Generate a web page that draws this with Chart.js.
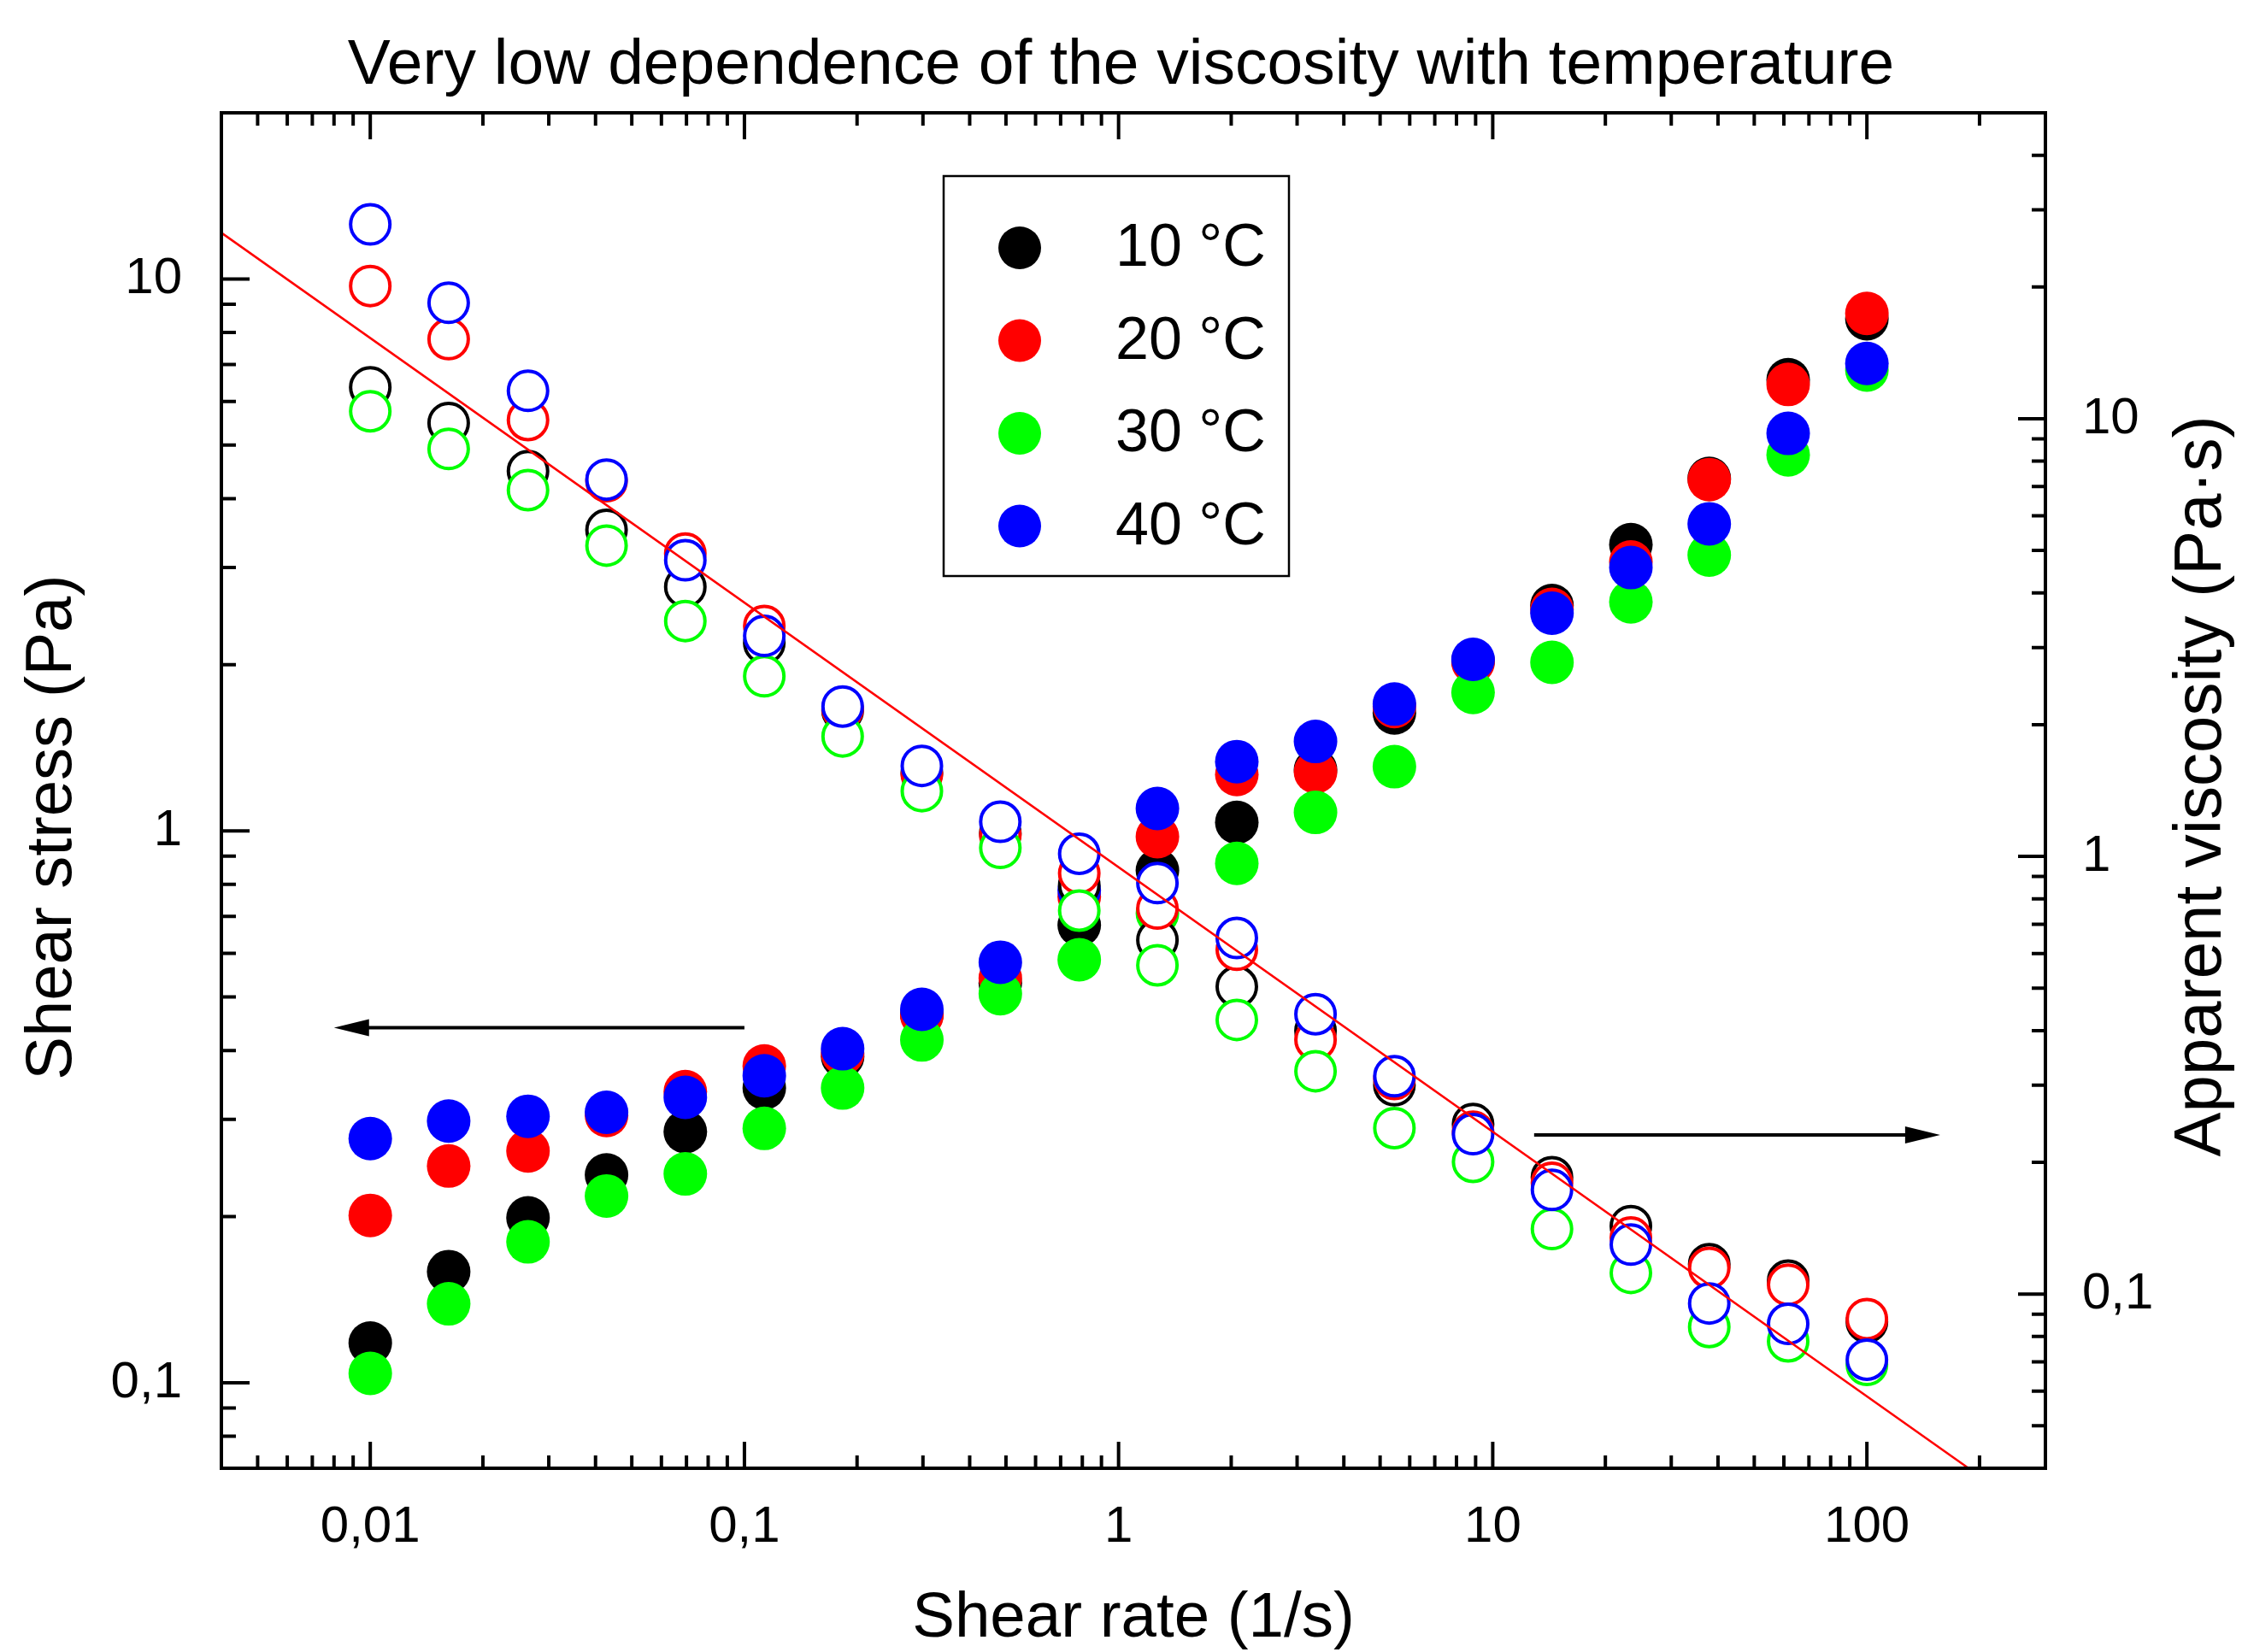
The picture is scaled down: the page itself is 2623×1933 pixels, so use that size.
<!DOCTYPE html>
<html>
<head>
<meta charset="utf-8">
<title>Very low dependence of the viscosity with temperature</title>
<script src="https://cdn.jsdelivr.net/npm/chart.js@4.4.1/dist/chart.umd.min.js"></script>
<style>
  html, body { margin: 0; padding: 0; background: #fff; }
  #wrap { width: 2623px; height: 1933px; }
</style>
</head>
<body>
<div id="wrap"><canvas id="chart" width="2623" height="1933"></canvas></div>
<script>
// shear rate (1/s), same for every series
var shearRate = [0.01, 0.0162, 0.0264, 0.0428, 0.0695, 0.113, 0.183, 0.298, 0.483, 0.785,
                 1.27, 2.07, 3.36, 5.46, 8.86, 14.4, 23.4, 37.9, 61.6, 100];

// shear stress (Pa) -> left axis, filled symbols
var stress10 = [0.118, 0.159, 0.199, 0.238, 0.285, 0.342, 0.390, 0.465, 0.530, 0.675,
                0.848, 1.036, 1.29, 1.636, 2.03, 2.56, 3.30, 4.35, 6.57, 8.47];
var stress20 = [0.201, 0.247, 0.263, 0.305, 0.337, 0.375, 0.395, 0.463, 0.541, 0.76,
                0.976, 1.265, 1.279, 1.68, 2.02, 2.52, 3.07, 4.33, 6.44, 8.66];
var stress30 = [0.104, 0.139, 0.180, 0.218, 0.239, 0.289, 0.342, 0.418, 0.507, 0.584,
                0.709, 0.873, 1.08, 1.307, 1.781, 2.02, 2.60, 3.16, 4.80, 6.84];
var stress40 = [0.277, 0.298, 0.304, 0.309, 0.329, 0.360, 0.403, 0.475, 0.578, 0.78,
                1.098, 1.335, 1.452, 1.697, 2.045, 2.48, 3.00, 3.60, 5.25, 7.03];

// apparent viscosity (Pa·s) -> right axis, open symbols
var visc10 = [11.8, 9.78, 7.59, 5.57, 4.13, 3.07, 2.15, 1.55, 1.13, 0.86,
              0.644, 0.504, 0.40, 0.30, 0.2445, 0.185, 0.143, 0.117, 0.1073, 0.0864];
var visc20 = [20.1, 15.2, 9.93, 7.2, 4.92, 3.36, 2.17, 1.54, 1.12, 0.915,
              0.76, 0.612, 0.381, 0.31, 0.235, 0.1796, 0.1346, 0.1148, 0.105, 0.0877];
var visc30 = [10.4, 8.53, 6.87, 5.13, 3.45, 2.58, 1.88, 1.41, 1.046, 0.752,
              0.564, 0.423, 0.323, 0.2395, 0.2005, 0.1408, 0.1118, 0.0841, 0.078, 0.0689];
var visc40 = [27.8, 18.4, 11.58, 7.26, 4.75, 3.19, 2.20, 1.61, 1.20, 1.014,
              0.869, 0.651, 0.436, 0.3146, 0.232, 0.173, 0.1297, 0.0952, 0.0855, 0.0708];

var temps = ['10 °C', '20 °C', '30 °C', '40 °C'];
var colors = ['#000000', '#ff0000', '#00ff00', '#0000ff'];

// red guide line (viscosity axis), its two ends
var fitRate = [0.004, 187];
var fitVisc = [26.6, 0.04];

// arrows: which family goes with which axis
var arrowStressX = [0.1, 0.008];   var arrowStressY = 0.44;   // left axis
var arrowViscX = [12.9, 157];      var arrowViscY = 0.231;    // right axis

// tick labels (decimal comma)
var xTickVals = [0.01, 0.1, 1, 10, 100];
var xTickText = ['0,01', '0,1', '1', '10', '100'];
var yTickVals = [0.1, 1, 10];
var yTickText = ['0,1', '1', '10'];

var leftTitle = 'Shear stress (Pa)';
var rightTitle = 'Apparent viscosity (Pa·s)';

var FONT = "'Liberation Sans', Arial, sans-serif";
Chart.defaults.font.family = FONT;
Chart.defaults.color = '#000';

var stressSeries = [stress10, stress20, stress30, stress40];
var viscSeries = [visc10, visc20, visc30, visc40];

function pairs(xs, ys) {
    return xs.map(function (x, i) { return {x: x, y: ys[i]}; });
}

function pickLabel(vals, texts, v) {
    for (var i = 0; i < vals.length; i++) {
        if (Math.abs(Math.log10(v / vals[i])) < 0.01) return texts[i];
    }
    return '';
}

// 1..9 x 10^n ticks, majors at the decades
function logTicks(scale) {
    var out = [];
    var lo = Math.floor(Math.log10(scale.min)), hi = Math.ceil(Math.log10(scale.max));
    for (var e = lo; e <= hi; e++) {
        for (var m = 1; m <= 9; m++) {
            var v = parseFloat((m * Math.pow(10, e)).toPrecision(6));
            if (v >= scale.min * 0.999 && v <= scale.max * 1.001) out.push({value: v, major: m === 1});
        }
    }
    scale.ticks = out;
}

var datasets = [];
datasets.push({
    label: 'fit',
    data: pairs(fitRate, fitVisc),
    showLine: true,
    pointRadius: 0,
    borderColor: '#ff0000',
    borderWidth: 2.5,
    yAxisID: 'yR',
    order: 0
});
for (var i = 0; i < 4; i++) {
    datasets.push({
        label: temps[i] + ' viscosity',
        data: pairs(shearRate, viscSeries[i]),
        pointRadius: 23,
        pointBackgroundColor: '#ffffff',
        pointBorderColor: colors[i],
        pointBorderWidth: 4,
        yAxisID: 'yR',
        order: 4 - i
    });
    datasets.push({
        label: temps[i],
        data: pairs(shearRate, stressSeries[i]),
        pointRadius: 25.5,
        pointBackgroundColor: colors[i],
        pointBorderColor: colors[i],
        pointBorderWidth: 0,
        yAxisID: 'yL',
        order: 8 - i
    });
}

// frame, inward ticks, arrows, y titles and the boxed legend
var decorPlugin = {
    id: 'decor',
    afterDraw: function (chart) {
        var ctx = chart.ctx, a = chart.chartArea;
        var sx = chart.scales.x, yl = chart.scales.yL, yr = chart.scales.yR;
        ctx.save();
        ctx.strokeStyle = '#000';
        ctx.fillStyle = '#000';
        ctx.lineCap = 'butt';

        // ticks
        ctx.lineWidth = 4;
        ctx.beginPath();
        sx.ticks.forEach(function (t) {
            var p = sx.getPixelForValue(t.value);
            if (p < a.left + 3 || p > a.right - 3) return;
            var len = t.major ? 31 : 15;
            ctx.moveTo(p, a.bottom); ctx.lineTo(p, a.bottom - len);
            ctx.moveTo(p, a.top); ctx.lineTo(p, a.top + len);
        });
        yl.ticks.forEach(function (t) {
            var p = yl.getPixelForValue(t.value);
            if (p < a.top + 3 || p > a.bottom - 3) return;
            var len = t.major ? 33 : 17;
            ctx.moveTo(a.left, p); ctx.lineTo(a.left + len, p);
        });
        yr.ticks.forEach(function (t) {
            var p = yr.getPixelForValue(t.value);
            if (p < a.top + 3 || p > a.bottom - 3) return;
            var len = t.major ? 32 : 16;
            ctx.moveTo(a.right, p); ctx.lineTo(a.right - len, p);
        });
        ctx.stroke();

        // frame
        ctx.lineWidth = 4;
        ctx.strokeRect(a.left, a.top, a.right - a.left, a.bottom - a.top);

        // arrows
        function arrow(x1, y1, x2, y2) {
            var dir = x2 > x1 ? 1 : -1;
            ctx.lineWidth = 4;
            ctx.beginPath();
            ctx.moveTo(x1, y1);
            ctx.lineTo(x2 - dir * 38, y2);
            ctx.stroke();
            ctx.beginPath();
            ctx.moveTo(x2, y2);
            ctx.lineTo(x2 - dir * 41, y2 - 10);
            ctx.lineTo(x2 - dir * 41, y2 + 10);
            ctx.closePath();
            ctx.fill();
        }
        var ys = yl.getPixelForValue(arrowStressY);
        arrow(sx.getPixelForValue(arrowStressX[0]), ys, sx.getPixelForValue(arrowStressX[1]), ys);
        var yv = yr.getPixelForValue(arrowViscY);
        arrow(sx.getPixelForValue(arrowViscX[0]), yv, sx.getPixelForValue(arrowViscX[1]), yv);

        // y axis titles, both read bottom to top
        function vtitle(text, size, x, y) {
            ctx.save();
            ctx.translate(x, y);
            ctx.rotate(-Math.PI / 2);
            ctx.font = size + 'px ' + FONT;
            ctx.textAlign = 'center';
            ctx.textBaseline = 'middle';
            ctx.fillStyle = '#000';
            ctx.fillText(text, 0, 0);
            ctx.restore();
        }
        vtitle(leftTitle, 76, yl.left + 62, a.top + 836);
        vtitle(rightTitle, 78, yr.left + 183, a.top + 788);

        // legend box
        var bx = a.left + 845, by = a.top + 74, bw = 404, bh = 468;
        ctx.lineWidth = 2.5;
        ctx.strokeRect(bx, by, bw, bh);
        ctx.font = '70px ' + FONT;
        ctx.textBaseline = 'middle';
        ctx.textAlign = 'left';
        for (var k = 0; k < temps.length; k++) {
            var cy = by + 84 + k * 108.5;
            ctx.beginPath();
            ctx.arc(bx + 89, cy, 25, 0, Math.PI * 2);
            ctx.fillStyle = colors[k];
            ctx.fill();
            ctx.fillStyle = '#000';
            ctx.fillText(temps[k], bx + 201, cy + 2);
        }
        ctx.restore();
    }
};

new Chart(document.getElementById('chart'), {
    type: 'scatter',
    data: {datasets: datasets},
    options: {
        responsive: false,
        animation: false,
        events: [],
        layout: {padding: 0},
        plugins: {
            legend: {display: false},
            tooltip: {enabled: false},
            title: {
                display: true,
                text: 'Very low dependence of the viscosity with temperature',
                color: '#000',
                font: {size: 75, weight: 'normal', lineHeight: 1},
                padding: {top: 40, bottom: 17}
            }
        },
        scales: {
            x: {
                type: 'logarithmic',
                position: 'bottom',
                min: 0.004,
                max: 300,
                grid: {display: false},
                border: {display: false},
                afterBuildTicks: logTicks,
                afterFit: function (s) { s.height = 215; },
                ticks: {
                    autoSkip: false, maxRotation: 0, minRotation: 0,
                    padding: 31, color: '#000',
                    font: {size: 60, lineHeight: 1},
                    callback: function (v) { return pickLabel(xTickVals, xTickText, v); }
                },
                title: {
                    display: true, text: 'Shear rate (1/s)', color: '#000',
                    font: {size: 74.5, lineHeight: 1}, padding: {top: 0, bottom: 1}
                }
            },
            yL: {
                type: 'logarithmic',
                position: 'left',
                min: 0.07,
                max: 20,
                grid: {display: false},
                border: {display: false},
                afterBuildTicks: logTicks,
                afterFit: function (s) { s.width = 259; },
                ticks: {
                    autoSkip: false, padding: 38, color: '#000',
                    font: {size: 60, lineHeight: 1},
                    callback: function (v) { return pickLabel(yTickVals, yTickText, v); }
                }
            },
            yR: {
                type: 'logarithmic',
                position: 'right',
                min: 0.04,
                max: 50,
                grid: {display: false},
                border: {display: false},
                afterBuildTicks: logTicks,
                afterFit: function (s) { s.width = 230; },
                ticks: {
                    autoSkip: false, padding: 35, color: '#000',
                    font: {size: 60, lineHeight: 1},
                    callback: function (v) { return pickLabel(yTickVals, yTickText, v); }
                }
            }
        }
    },
    plugins: [decorPlugin]
});
</script>
</body>
</html>
